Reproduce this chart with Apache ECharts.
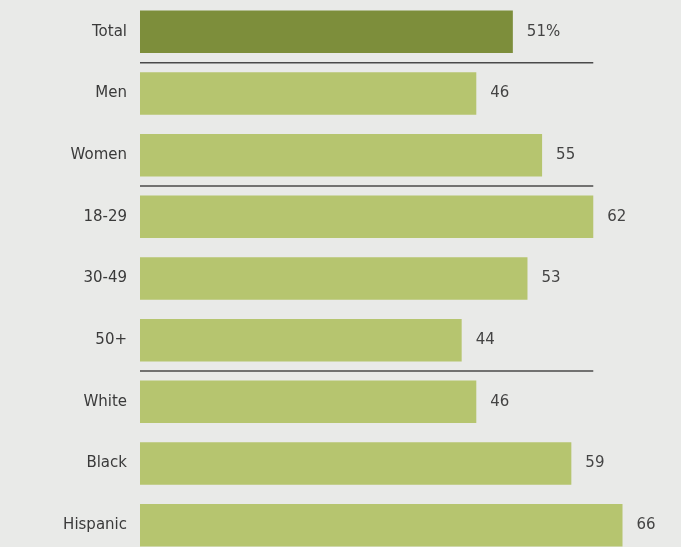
<!DOCTYPE html>
<html>
<head>
<meta charset="utf-8">
<script src="https://cdn.jsdelivr.net/npm/echarts@6/dist/echarts.min.js"></script>
<style>
html,body{margin:0;padding:0;background:#e9eae8;overflow:hidden;width:681px;height:547px;}
#c{width:681px;height:557px;}
</style>
</head>
<body>
<div id="c"></div>
<script>
const categories = ["Total","Men","Women","18-29","30-49","50+","White","Black","Hispanic"];
const values = [51,46,55,62,53,44,46,59,66];
const separatorsAfter = [0,2,5];

const chart = echarts.init(document.getElementById('c'));
const darkColor = '#7d8e3b';
const lightColor = '#b6c56f';

chart.setOption({
  backgroundColor: '#e9eae8',
  animation: false,
  grid: {left: 140, top: 1, right: 0, bottom: 1},
  xAxis: {type: 'value', min: 0, max: 74, show: false},
  yAxis: {
    type: 'category', data: categories, inverse: true,
    axisLine: {show: false}, axisTick: {show: false},
    axisLabel: {color: '#3a3a3a', fontFamily: 'DejaVu Sans', fontSize: 15, margin: 13}
  },
  series: [
    {
      type: 'bar',
      data: values.map((v, i) => ({value: v, itemStyle: {color: i === 0 ? darkColor : lightColor}})),
      barWidth: '69%',
      label: {
        show: true, position: 'right', distance: 14,
        color: '#444', fontFamily: 'DejaVu Sans', fontSize: 15,
        formatter: p => p.dataIndex === 0 ? p.value + '%' : p.value
      }
    },
    {
      type: 'custom',
      data: separatorsAfter.map(s => [62, s]),
      renderItem: function (params, api) {
        const idx = separatorsAfter[params.dataIndex];
        const a = api.coord([0, idx]);
        const b = api.coord([0, idx + 1]);
        const y = (a[1] + b[1]) / 2;
        const x1 = api.coord([62, idx])[0];
        return {type: 'line', shape: {x1: a[0], y1: y, x2: x1, y2: y}, style: {stroke: '#4a4a4a', lineWidth: 1.5}};
      },
      z: 3
    }
  ]
});
</script>
</body>
</html>
